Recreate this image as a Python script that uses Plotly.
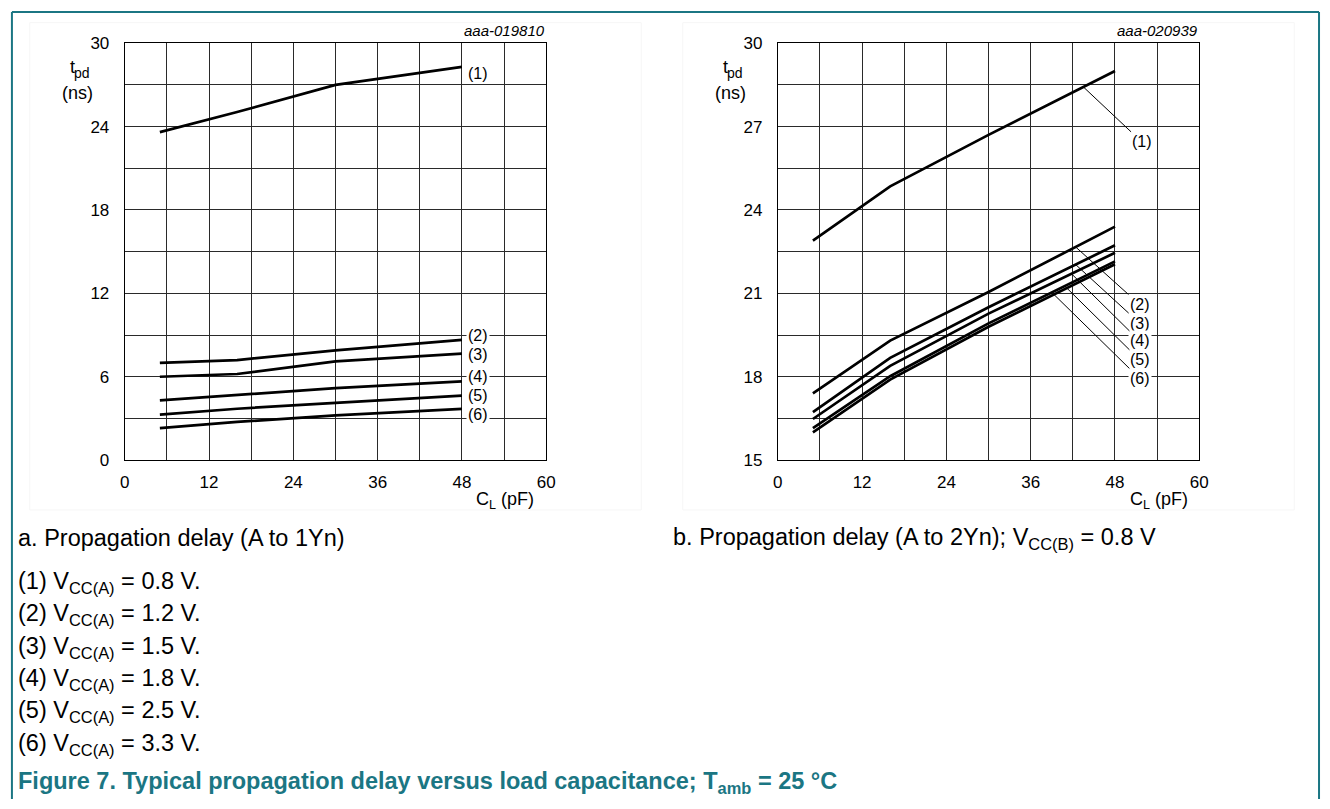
import numpy as np
import plotly.graph_objects as go

# ---------------------------------------------------------------- data
# load capacitance sample points (pF)
CL_PF = [5, 16, 30, 48]

# (a) propagation delay A to 1Yn, ns
TPD_A = {
    "(1)": [23.6, 25.05, 27.0, 28.3],
    "(2)": [7.0, 7.2, 7.9, 8.65],
    "(3)": [6.0, 6.2, 7.1, 7.66],
    "(4)": [4.3, 4.7, 5.18, 5.67],
    "(5)": [3.27, 3.7, 4.12, 4.64],
    "(6)": [2.3, 2.75, 3.22, 3.69],
}

# (b) propagation delay A to 2Yn, VCC(B) = 0.8 V, ns
TPD_B = {
    "(1)": [22.9, 24.85, 26.7, 29.0],
    "(2)": [17.4, 19.3, 21.05, 23.4],
    "(3)": [16.73, 18.68, 20.5, 22.73],
    "(4)": [16.48, 18.39, 20.27, 22.46],
    "(5)": [16.15, 18.02, 19.92, 22.15],
    "(6)": [16.0, 17.9, 19.8, 22.05],
}

VCC_A = ["0.8", "1.2", "1.5", "1.8", "2.5", "3.3"]
X_TICKS = [0, 12, 24, 36, 48, 60]
Y_TICKS_A = [0, 6, 12, 18, 24, 30]
Y_TICKS_B = [15, 18, 21, 24, 27, 30]

# ---------------------------------------------------------------- layout helpers
W, H = 1330, 809
FONT = "Liberation Sans, Arial, sans-serif"
TEAL = "#1b7683"
GRID = "#2a2a2a"


def px(x):
    return x / W


def py(y):
    return 1 - y / H


fig = go.Figure()

for series in TPD_A.values():
    fig.add_trace(go.Scatter(x=CL_PF, y=series, mode="lines",
                             line=dict(color="black", width=2.7),
                             xaxis="x", yaxis="y",
                             showlegend=False, hoverinfo="skip"))
for series in TPD_B.values():
    fig.add_trace(go.Scatter(x=CL_PF, y=series, mode="lines",
                             line=dict(color="black", width=2.7),
                             xaxis="x2", yaxis="y2",
                             showlegend=False, hoverinfo="skip"))

y_dom = [py(462), py(35)]


def xaxis(domain, anchor):
    return dict(domain=domain, anchor=anchor, range=[0, 60],
                tickmode="array", tickvals=X_TICKS,
                showgrid=True, gridcolor=GRID, gridwidth=1,
                minor=dict(tick0=0, dtick=6, showgrid=True,
                           gridcolor=GRID, gridwidth=1),
                showline=True, mirror=True, linecolor="black", linewidth=1,
                zeroline=False, ticks="", ticklabelstandoff=6,
                tickfont=dict(family=FONT, size=17, color="black"),
                fixedrange=True)


def yaxis(anchor, rng, ticks, minor_step):
    return dict(domain=y_dom, anchor=anchor, range=rng,
                tickmode="array", tickvals=ticks,
                showgrid=True, gridcolor=GRID, gridwidth=1,
                minor=dict(tick0=rng[0], dtick=minor_step, showgrid=True,
                           gridcolor=GRID, gridwidth=1),
                showline=True, mirror=True, linecolor="black", linewidth=1,
                zeroline=False, ticks="", ticklabelstandoff=11,
                tickfont=dict(family=FONT, size=17, color="black"),
                fixedrange=True)


fig.update_layout(
    width=W, height=H,
    margin=dict(l=0, r=0, t=0, b=0),
    paper_bgcolor="white", plot_bgcolor="white",
    showlegend=False,
    xaxis=xaxis([px(121), px(547)], "y"),
    yaxis=yaxis("x", [0, 30], Y_TICKS_A, 3),
    xaxis2=xaxis([px(781), px(1207)], "y2"),
    yaxis2=yaxis("x2", [15, 30], Y_TICKS_B, 1.5),
)

ann = []
LBL = dict(family=FONT, size=16, color="black")

# curve labels, chart (a): placed just right of the line ends
label_y_a = [27.85, 9.0, 7.6, 6.0, 4.64, 3.25]
for name, ly in zip(TPD_A, label_y_a):
    ann.append(dict(x=48, y=ly, xref="x", yref="y", text=name,
                    showarrow=False, xanchor="left", xshift=4,
                    bgcolor="white", borderpad=1, font=LBL))

# curve labels, chart (b): leader lines from the curves
head_x_b = [43.5, 42.4, 42.4, 41.8, 40.85, 39.3]
label_pos_b = [(51.8, 26.45), (51.5, 20.6), (51.5, 19.93),
               (51.5, 19.29), (51.5, 18.61), (51.5, 17.94)]
for (name, series), hx, (lx, ly) in zip(TPD_B.items(), head_x_b, label_pos_b):
    hy = float(np.interp(hx, CL_PF, series))
    ann.append(dict(x=hx, y=hy, xref="x2", yref="y2",
                    ax=lx, ay=ly, axref="x2", ayref="y2",
                    text=name, showarrow=True, arrowhead=0,
                    arrowwidth=1, arrowcolor="black", standoff=0,
                    bgcolor="white", borderpad=1, font=LBL))

# axis titles and drawing codes
for xa, code, axis_px in (("x", "aaa-019810", 121), ("x2", "aaa-020939", 781)):
    ann.append(dict(x=px(axis_px - 53), y=py(59), xref="paper", yref="paper",
                    text="t", showarrow=False,
                    xanchor="center", yanchor="middle",
                    font=dict(family=FONT, size=18, color="black")))
    ann.append(dict(x=px(axis_px - 43), y=py(66), xref="paper", yref="paper",
                    text="pd", showarrow=False,
                    xanchor="center", yanchor="middle",
                    font=dict(family=FONT, size=14, color="black")))
    ann.append(dict(x=px(axis_px - 48), y=py(86), xref="paper", yref="paper",
                    text="(ns)", showarrow=False,
                    xanchor="center", yanchor="middle",
                    font=dict(family=FONT, size=18, color="black")))
    ann.append(dict(x=px(axis_px + 427), y=py(22), xref="paper", yref="paper",
                    text=f"<i>{code}</i>", showarrow=False,
                    xanchor="right", yanchor="middle",
                    font=dict(family=FONT, size=15, color="black")))
    ann.append(dict(x=54.2, y=py(503), xref=xa, yref="paper",
                    text="C<sub>L</sub> (pF)", showarrow=False,
                    xanchor="center", yanchor="middle",
                    font=dict(family=FONT, size=18, color="black")))

# sub-captions and legend text
CAP = 23.5
ann.append(dict(x=px(11), y=py(542), xref="paper", yref="paper",
                text="a. Propagation delay (A to 1Yn)", showarrow=False,
                xanchor="left", yanchor="middle",
                font=dict(family=FONT, size=CAP, color="black")))
ann.append(dict(x=px(673), y=py(542), xref="paper", yref="paper",
                text="b. Propagation delay (A to 2Yn); V<sub>CC(B)</sub> = 0.8 V",
                showarrow=False, xanchor="left", yanchor="middle",
                font=dict(family=FONT, size=CAP, color="black")))
for i, (name, v) in enumerate(zip(TPD_A, VCC_A)):
    ann.append(dict(x=px(11), y=py(587 + i * 33.2), xref="paper", yref="paper",
                    text=f"{name} V<sub>CC(A)</sub> = {v} V.", showarrow=False,
                    xanchor="left", yanchor="middle",
                    font=dict(family=FONT, size=CAP, color="black")))
ann.append(dict(x=px(11), y=py(792), xref="paper", yref="paper",
                text="<b>Figure 7. Typical propagation delay versus load capacitance; "
                     "T<sub>amb</sub> = 25 °C</b>",
                showarrow=False, xanchor="left", yanchor="middle",
                font=dict(family=FONT, size=CAP, color=TEAL)))

fig.update_layout(annotations=ann)

# frame around the figure block and faint panels
shapes = [
    dict(type="line", xref="paper", yref="paper", x0=px(7), x1=px(1328),
         y0=py(3), y1=py(3), line=dict(color=TEAL, width=2)),
    dict(type="line", xref="paper", yref="paper", x0=px(7), x1=px(7),
         y0=py(3), y1=0, line=dict(color=TEAL, width=2)),
    dict(type="line", xref="paper", yref="paper", x0=px(1328), x1=px(1328),
         y0=py(3), y1=0, line=dict(color=TEAL, width=2)),
    dict(type="rect", xref="paper", yref="paper", x0=px(25), x1=px(643),
         y0=py(14), y1=py(513), line=dict(color="#f6f6f6", width=1)),
    dict(type="rect", xref="paper", yref="paper", x0=px(685), x1=px(1303),
         y0=py(14), y1=py(513), line=dict(color="#f6f6f6", width=1)),
]
fig.update_layout(shapes=shapes)

fig.write_html("out.html")
